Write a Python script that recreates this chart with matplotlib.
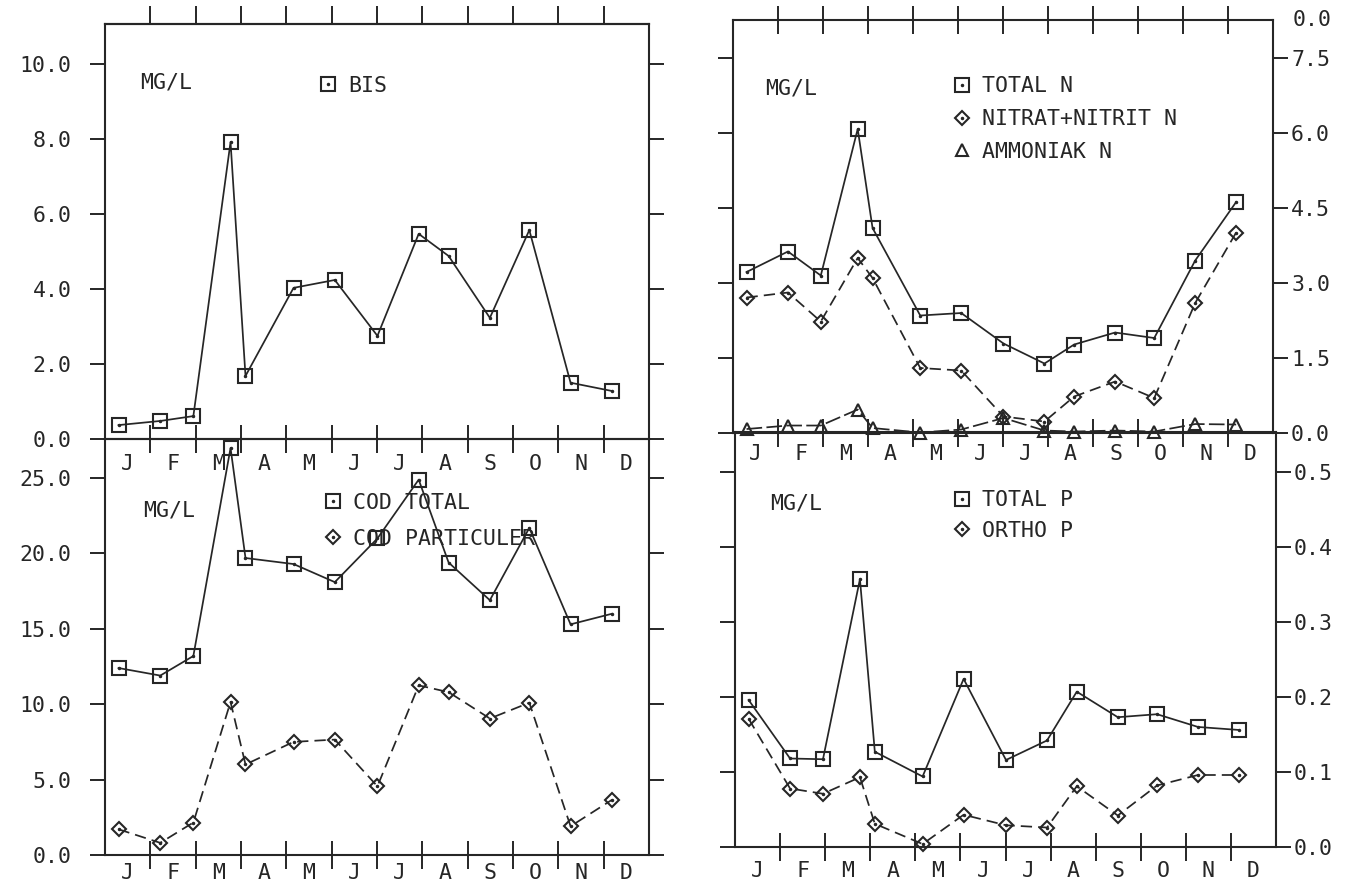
import numpy as np
import matplotlib
matplotlib.use("Agg")
import matplotlib.pyplot as plt
from matplotlib.lines import Line2D

plt.rcParams['font.family'] = ['DejaVu Sans Mono']
plt.rcParams['font.size'] = 15.5

ink = '#262626'

months = ["J", "F", "M", "A", "M", "J", "J", "A", "S", "O", "N", "D"]
# sampling dates, as months from 1 January
sample_pos = [0.3, 1.22, 1.95, 2.77, 3.1, 4.16, 5.07, 6.01, 6.92, 7.58, 8.49, 9.36, 10.27, 11.18]

bis = [0.37, 0.48, 0.61, 7.92, 1.68, 4.03, 4.24, 2.75, 5.47, 4.88, 3.23, 5.57, 1.5, 1.28]
cod_total = [12.4, 11.9, 13.2, 27.0, 19.7, 19.3, 18.1, 21.0, 24.9, 19.4, 16.9, 21.7, 15.3, 16.0]
cod_part = [1.7, 0.8, 2.15, 10.15, 6.0, 7.5, 7.65, 4.55, 11.25, 10.8, 9.05, 10.1, 1.9, 3.65]
total_n = [3.22, 3.63, 3.15, 6.08, 4.1, 2.35, 2.4, 1.79, 1.39, 1.77, 2.01, 1.9, 3.45, 4.62]
nitrat_n = [2.71, 2.81, 2.23, 3.5, 3.1, 1.3, 1.25, 0.33, 0.23, 0.73, 1.03, 0.7, 2.6, 4.01]
ammoniak_n = [0.08, 0.15, 0.15, 0.47, 0.1, 0.01, 0.07, 0.3, 0.05, 0.03, 0.05, 0.03, 0.18, 0.17]
total_p = [0.196, 0.118, 0.117, 0.357, 0.127, 0.094, 0.224, 0.116, 0.142, 0.207, 0.173, 0.177, 0.16, 0.156]
ortho_p = [0.171, 0.078, 0.071, 0.093, 0.031, 0.004, 0.043, 0.029, 0.026, 0.081, 0.042, 0.082, 0.096, 0.096]

left_ticks_bis = [0, 2, 4, 6, 8, 10]
left_ticks_cod = [0, 5, 10, 15, 20, 25]
right_ticks_n = [0, 1.5, 3.0, 4.5, 6.0, 7.5]
right_ticks_p = [0, 0.1, 0.2, 0.3, 0.4, 0.5]

fig = plt.figure(figsize=(13.49, 8.85), dpi=100)
fig.patch.set_facecolor('white')

ax_bis = fig.add_axes([0.0778, 0.504, 0.4033, 0.469])
ax_cod = fig.add_axes([0.0778, 0.034, 0.4033, 0.470])
ax_n = fig.add_axes([0.5434, 0.5107, 0.4003, 0.4667])
ax_p = fig.add_axes([0.5449, 0.0429, 0.4010, 0.4689])


def setup(ax, ylim, yticks, label_side, month_pad, top_ticks):
    ax.patch.set_visible(False)
    ax.set_xlim(0, 12)
    ax.set_ylim(*ylim)
    for s in ax.spines.values():
        s.set_linewidth(1.5)
        s.set_color(ink)
    ax.set_xticks(range(1, 12))
    ax.set_xticklabels([])
    ax.set_xticks(np.arange(12) + 0.5, minor=True)
    ax.set_xticklabels(months, minor=True)
    ax.tick_params(axis='x', which='major', direction='inout', length=20, width=1.4,
                   color=ink, bottom=True, top=(top_ticks == 'inout'))
    ax.tick_params(axis='x', which='minor', length=0, pad=month_pad, labelcolor=ink)
    ax.set_yticks(yticks)
    ax.set_yticklabels(["%.1f" % v for v in yticks])
    ax.tick_params(axis='y', which='major', direction='out', length=11, width=1.4,
                   color=ink, left=True, right=True, labelcolor=ink,
                   labelleft=(label_side == 'left'), labelright=(label_side == 'right'),
                   pad=(13 if label_side == 'left' else 2))
    ax.tick_params(axis='y', which='minor', left=False, right=False)
    if top_ticks == 'out':
        sec = ax.secondary_xaxis('top')
        sec.set_xticks(range(1, 12))
        sec.set_xticklabels([])
        sec.tick_params(direction='out', length=13, width=1.4, color=ink)
        sec.spines['top'].set_linewidth(1.5)


def series(ax, y, marker, style, ms, dot=True):
    ax.plot(sample_pos, y, color=ink, lw=1.25, linestyle=style, marker=marker,
            ms=ms, mfc='none', mec=ink, mew=1.5, clip_on=False, zorder=3)
    if dot:
        ax.plot(sample_pos, y, ls='none', marker='.', ms=3, color=ink,
                clip_on=False, zorder=4)


def handle(marker, ms, dot=True):
    h = Line2D([], [], ls='none', marker=marker, ms=ms, mfc='none', mec=ink, mew=1.5)
    if dot:
        return (h, Line2D([], [], ls='none', marker='.', ms=3, color=ink))
    return h


def legend(ax, handles, labels, x, y, spacing):
    ax.legend(handles, labels, loc='upper left', bbox_to_anchor=(x, y), frameon=False,
              handlelength=0.8, handletextpad=0.55, borderpad=0, borderaxespad=0,
              labelspacing=spacing, labelcolor=ink, fontsize=15.5)


dash = (0, (6.5, 3.5))
long_dash = (0, (9, 2.5))

# BIS
setup(ax_bis, (0, 11.07), left_ticks_bis, 'left', 11, 'out')
series(ax_bis, bis, 's', '-', 10)
ax_bis.text(0.064, 0.86, "MG/L", transform=ax_bis.transAxes, va='center', color=ink)
legend(ax_bis, [handle('s', 10)], ["BIS"], 0.394, 0.875, 0.6)

# COD
setup(ax_cod, (0, 27.6), left_ticks_cod, 'left', 6, None)
ax_cod.tick_params(axis='x', which='major', top=False)
series(ax_cod, cod_total, 's', '-', 10)
series(ax_cod, cod_part, 'D', dash, 7.5)
ax_cod.text(0.07, 0.829, "MG/L", transform=ax_cod.transAxes, va='center', color=ink)
legend(ax_cod, [handle('s', 10), handle('D', 7.5)], ["COD TOTAL", "COD PARTICULER"],
       0.403, 0.87, 0.72)

# N
setup(ax_n, (0, 8.26), right_ticks_n, 'right', 8, 'inout')
series(ax_n, total_n, 's', '-', 10)
series(ax_n, nitrat_n, 'D', dash, 7.5)
series(ax_n, ammoniak_n, '^', long_dash, 9, dot=False)
ax_n.text(0.059, 0.835, "MG/L", transform=ax_n.transAxes, va='center', color=ink)
legend(ax_n, [handle('s', 10), handle('D', 7.5), handle('^', 9, dot=False)],
       ["TOTAL N", "NITRAT+NITRIT N", "AMMONIAK N"], 0.408, 0.864, 0.6)
ax_n.annotate("0.0", xy=(1, 1), xycoords='axes fraction', xytext=(14, 0),
              textcoords='offset points', va='center', ha='left', color=ink,
              annotation_clip=False)

# P
setup(ax_p, (0, 0.553), right_ticks_p, 'right', 10, None)
ax_p.tick_params(axis='x', which='major', top=False)
series(ax_p, total_p, 's', '-', 10)
series(ax_p, ortho_p, 'D', dash, 7.5)
ax_p.text(0.065, 0.829, "MG/L", transform=ax_p.transAxes, va='center', color=ink)
legend(ax_p, [handle('s', 10), handle('D', 7.5)], ["TOTAL P", "ORTHO P"],
       0.403, 0.86, 0.5)

fig.savefig("out.png", dpi=100, facecolor='white')
